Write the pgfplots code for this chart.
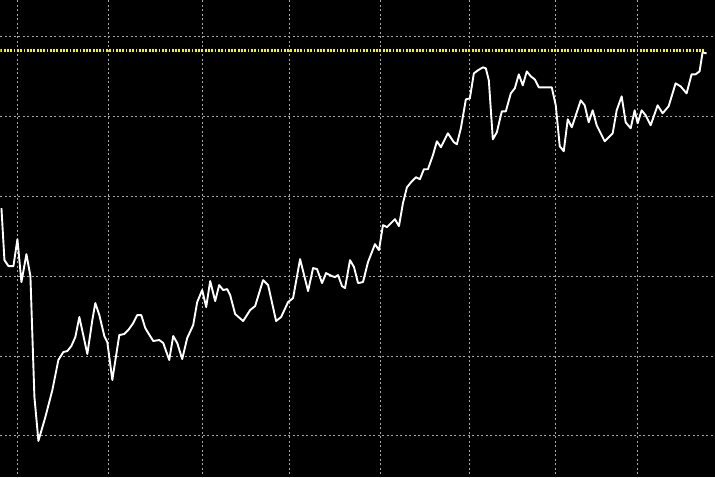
\documentclass[border=0pt]{standalone}
\usepackage{pgfplots}
\pgfplotsset{compat=1.18}
\begin{document}
\begin{tikzpicture}
\begin{axis}[
 scale only axis, width=715bp, height=477bp,
 xmin=0, xmax=715, ymin=0, ymax=477, y dir=reverse,
 axis line style={draw=none},
 axis background/.style={fill=black},
 xtick={17,108,202,289,380,470,556,638},
 ytick={36,116,196,276,356,436},
 xticklabels={}, yticklabels={},
 tick label style={overlay},
 major tick length=0pt,
 tick style={draw=none},
 grid=major,
 grid style={draw=gray!70, line width=0.9bp, dash pattern=on 2bp off 2.5bp},
 clip=true,
]
\addplot[color={rgb,255:red,245;green,245;blue,10}, line width=2.4bp, dash pattern=on 1.8bp off 1.5bp] coordinates {(0,50) (706,50)};
\addplot[white, line width=1.9bp, line join=round] coordinates {
(1,208) (4,260) (8,266) (13,266) (17,239) (21,282) (26,254) (30,276) (34,397) (38,441) (45,417) (52,390) (58,360) (63,352) (67,351) (71,346) (75,337) (79,317) (87,354) (92,320) (95,303) (99,315) (104,336) (107,342) (112,380) (119,335) (124,334) (128,330) (133,323) (137,315) (141,315) (145,328) (148,333) (153,341) (159,340) (163,343) (169,360) (173,336) (177,343) (182,359) (187,338) (193,325) (197,302) (202,290) (206,307) (210,281) (215,301) (219,285) (223,290) (227,289) (230,295) (235,314) (243,321) (250,310) (255,306) (263,280) (268,285) (276,321) (281,317) (288,302) (293,298) (300,259) (308,291) (313,268) (317,269) (322,283) (326,273) (332,276) (335,277) (338,275) (342,286) (345,288) (350,260) (354,267) (358,283) (363,282) (368,262) (375,244) (379,250) (383,225) (387,227) (395,219) (399,226) (403,203) (407,187) (412,181) (416,177) (420,179) (424,169) (428,169) (433,155) (437,141) (441,147) (448,133) (454,142) (457,144) (461,128) (466,99) (470,98) (474,73) (478,70) (483,67) (486,68) (489,80) (493,139) (497,132) (502,111) (506,111) (511,93) (515,88) (519,74) (523,85) (527,71) (531,76) (535,79) (539,87) (543,87) (552,87) (556,105) (560,146) (564,151) (568,119) (572,127) (577,112) (581,100) (585,105) (589,122) (593,110) (597,125) (605,141) (613,133) (617,110) (622,96) (626,122) (631,128) (635,110) (638,123) (642,110) (646,115) (651,125) (658,105) (663,113) (669,106) (676,83) (681,86) (687,93) (692,74) (696,74) (700,71) (703,52) (707,53)
};
\end{axis}
\end{tikzpicture}
\end{document}
